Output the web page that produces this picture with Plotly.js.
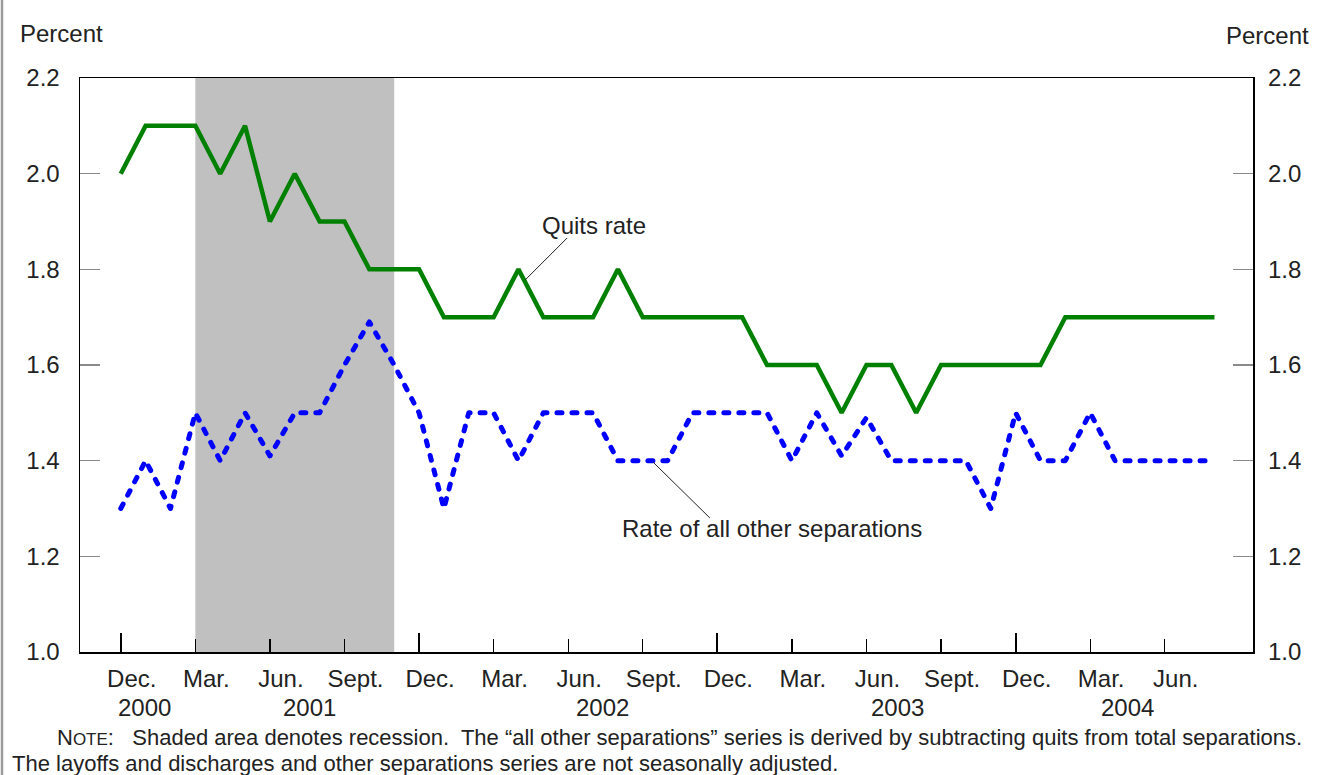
<!DOCTYPE html>
<html>
<head>
<meta charset="utf-8">
<script src="https://cdn.plot.ly/plotly-3.0.1.min.js"></script>
<style>
  html, body { margin: 0; padding: 0; background: #ffffff; }
  #chart { width: 1326px; height: 775px; }
</style>
</head>
<body>
<div id="chart"></div>
<script>
// ---- Data (monthly, Dec. 2000 - Aug. 2004) ----
const months = [
  "2000-12",
  "2001-01","2001-02","2001-03","2001-04","2001-05","2001-06","2001-07","2001-08","2001-09","2001-10","2001-11","2001-12",
  "2002-01","2002-02","2002-03","2002-04","2002-05","2002-06","2002-07","2002-08","2002-09","2002-10","2002-11","2002-12",
  "2003-01","2003-02","2003-03","2003-04","2003-05","2003-06","2003-07","2003-08","2003-09","2003-10","2003-11","2003-12",
  "2004-01","2004-02","2004-03","2004-04","2004-05","2004-06","2004-07","2004-08"
];
const quitsRate = [
  2.0,
  2.1, 2.1, 2.1, 2.0, 2.1, 1.9, 2.0, 1.9, 1.9, 1.8, 1.8, 1.8,
  1.7, 1.7, 1.7, 1.8, 1.7, 1.7, 1.7, 1.8, 1.7, 1.7, 1.7, 1.7,
  1.7, 1.6, 1.6, 1.6, 1.5, 1.6, 1.6, 1.5, 1.6, 1.6, 1.6, 1.6,
  1.6, 1.7, 1.7, 1.7, 1.7, 1.7, 1.7, 1.7
];
const otherSeparations = [
  1.3,
  1.4, 1.3, 1.5, 1.4, 1.5, 1.41, 1.5, 1.5, 1.6, 1.69, 1.6, 1.5,
  1.3, 1.5, 1.5, 1.4, 1.5, 1.5, 1.5, 1.4, 1.4, 1.4, 1.5, 1.5,
  1.5, 1.5, 1.4, 1.5, 1.41, 1.49, 1.4, 1.4, 1.4, 1.4, 1.3, 1.5,
  1.4, 1.4, 1.5, 1.4, 1.4, 1.4, 1.4, 1.4
];
const recessionStart = "2001-03";
const recessionEnd = "2001-11";

const monthTickVals = ["2000-12","2001-03","2001-06","2001-09","2001-12","2002-03","2002-06","2002-09","2002-12","2003-03","2003-06","2003-09","2003-12","2004-03","2004-06"];
const monthTickText = ["Dec.","Mar.","Jun.","Sept.","Dec.","Mar.","Jun.","Sept.","Dec.","Mar.","Jun.","Sept.","Dec.","Mar.","Jun."];
const yearTickVals = ["2000-12","2001-12","2002-12","2003-12"];
const yearLabels = ["2000","2001","2002","2003","2004"];
const yearLabelPos = [0.95, 7.6, 19.4, 31.25, 40.5];
const yTickVals = [1.0, 1.2, 1.4, 1.6, 1.8, 2.0, 2.2];
const yTickText = ["1.0","1.2","1.4","1.6","1.8","2.0","2.2"];

const FONT = '"Liberation Sans", Arial, Helvetica, sans-serif';
const TXT = '#222222';
const FS = 24;
const NOTE_FS = 22;
const xRange = [-1.64, 45.55];
const yRange = [1.0, 2.2];

const idx = m => months.indexOf(m);

const traces = [
  {
    x: months, y: quitsRate, xaxis: 'x', yaxis: 'y',
    type: 'scatter', mode: 'lines',
    line: { color: '#008000', width: 4.5 },
    hoverinfo: 'skip'
  },
  {
    x: months, y: otherSeparations, xaxis: 'x2', yaxis: 'y2',
    type: 'scatter', mode: 'lines',
    line: { color: '#0000ff', width: 5, dash: '5px,10px' },
    hoverinfo: 'skip'
  }
];

const annotations = [
  { xref: 'paper', yref: 'paper', x: (18 - 80) / 1173, y: (652 - 34) / 574, xanchor: 'left', yanchor: 'middle',
    text: 'Percent', showarrow: false, font: { family: FONT, size: FS, color: TXT } },
  { xref: 'paper', yref: 'paper', x: (1311 - 80) / 1173, y: (652 - 36) / 574, xanchor: 'right', yanchor: 'middle',
    text: 'Percent', showarrow: false, font: { family: FONT, size: FS, color: TXT } },
  { xref: 'x', yref: 'y', x: 19.05, y: 1 + (652 - 226) / 478.3, xanchor: 'center', yanchor: 'middle',
    text: 'Quits rate', showarrow: false, font: { family: FONT, size: FS, color: TXT } },
  { xref: 'x', yref: 'y', x: 26.2, y: 1 + (652 - 529) / 478.3, xanchor: 'center', yanchor: 'middle',
    text: 'Rate of all other separations', showarrow: false, font: { family: FONT, size: FS, color: TXT } },
  { xref: 'paper', yref: 'paper', x: (55 - 80) / 1173, y: (652 - 738) / 574, xanchor: 'left', yanchor: 'middle',
    text: 'N<span style="font-size:17px">OTE</span>:   Shaded area denotes recession.  The \u201call other separations\u201d series is derived by subtracting quits from total separations.',
    showarrow: false, font: { family: FONT, size: NOTE_FS, color: TXT } },
  { xref: 'paper', yref: 'paper', x: (10 - 80) / 1173, y: (652 - 763) / 574, xanchor: 'left', yanchor: 'middle',
    text: 'The layoffs and discharges and other separations series are not seasonally adjusted.',
    showarrow: false, font: { family: FONT, size: NOTE_FS, color: TXT } }
];
yearLabels.forEach((t, i) => {
  annotations.push({ xref: 'x', yref: 'paper', x: yearLabelPos[i], y: (652 - 707) / 574,
    xanchor: 'center', yanchor: 'middle', text: t, showarrow: false,
    font: { family: FONT, size: FS, color: TXT } });
});

const shapes = [
  { type: 'rect', xref: 'x', yref: 'paper', x0: idx(recessionStart), x1: idx(recessionEnd), y0: 0, y1: 1,
    fillcolor: '#c0c0c0', line: { width: 0 }, layer: 'below' },
  { type: 'line', xref: 'x', yref: 'y', x0: 17.96, y0: 1.8656, x1: 16.27, y1: 1.7778,
    line: { color: '#222', width: 1 } },
  { type: 'line', xref: 'x', yref: 'y', x0: 23.70, y0: 1.2802, x1: 21.41, y1: 1.3972,
    line: { color: '#222', width: 1 } },
  { type: 'line', xref: 'paper', yref: 'paper', x0: (2 - 80) / 1173, x1: (2 - 80) / 1173, y0: (652 - 0) / 574, y1: (652 - 775) / 574,
    line: { color: '#9a9a9a', width: 2.5 } }
];

const layout = {
  width: 1326, height: 775,
  margin: { l: 80, r: 73, t: 78, b: 123 },
  paper_bgcolor: '#ffffff', plot_bgcolor: '#ffffff',
  showlegend: false,
  font: { family: FONT, size: FS, color: TXT },
  xaxis: {
    type: 'category', range: xRange, categoryorder: 'array', categoryarray: months,
    tickmode: 'array', tickvals: monthTickVals, ticktext: monthTickText,
    ticks: 'inside', ticklen: 13, tickwidth: 1.3, tickcolor: '#000',
    ticklabelshift: 11, ticklabelstandoff: 5,
    showline: true, linecolor: '#000', linewidth: 1.5, mirror: true,
    showgrid: false, zeroline: false,
    tickfont: { family: FONT, size: FS, color: TXT }
  },
  xaxis2: {
    type: 'category', range: xRange, categoryorder: 'array', categoryarray: months,
    overlaying: 'x', anchor: 'y2', side: 'bottom',
    tickmode: 'array', tickvals: yearTickVals, ticktext: yearTickVals.map(() => ''),
    ticks: 'inside', ticklen: 19, tickwidth: 2, tickcolor: '#000',
    showticklabels: false, showline: false, showgrid: false, zeroline: false
  },
  yaxis: {
    range: yRange, tickmode: 'array', tickvals: yTickVals, ticktext: yTickText,
    ticks: 'inside', ticklen: 20, tickwidth: 1.5, tickcolor: '#8a8a8a',
    ticklabelstandoff: 14,
    showline: true, linecolor: '#000', linewidth: 1.5, mirror: true,
    showgrid: false, zeroline: false,
    tickfont: { family: FONT, size: FS, color: TXT }
  },
  yaxis2: {
    range: yRange, overlaying: 'y', anchor: 'x2', side: 'right',
    tickmode: 'array', tickvals: yTickVals, ticktext: yTickText,
    ticks: 'inside', ticklen: 20, tickwidth: 1.5, tickcolor: '#8a8a8a',
    ticklabelstandoff: 14,
    showline: false, showgrid: false, zeroline: false,
    tickfont: { family: FONT, size: FS, color: TXT }
  },
  shapes: shapes,
  annotations: annotations
};

Plotly.newPlot('chart', traces, layout, { staticPlot: true, displayModeBar: false }).then(gd => {
  // round the dash ends so the dotted series looks like the reference's dots
  const paths = gd.querySelectorAll('.scatterlayer .trace path.js-line');
  paths.forEach(p => {
    const st = (p.getAttribute('style') || '') + ' ' + (p.getAttribute('stroke') || '');
    if (/0,\s*0,\s*255|#0000ff/i.test(st)) {
      p.style.strokeLinecap = 'round';
      p.style.strokeLinejoin = 'round';
    }
  });
});
</script>
</body>
</html>
